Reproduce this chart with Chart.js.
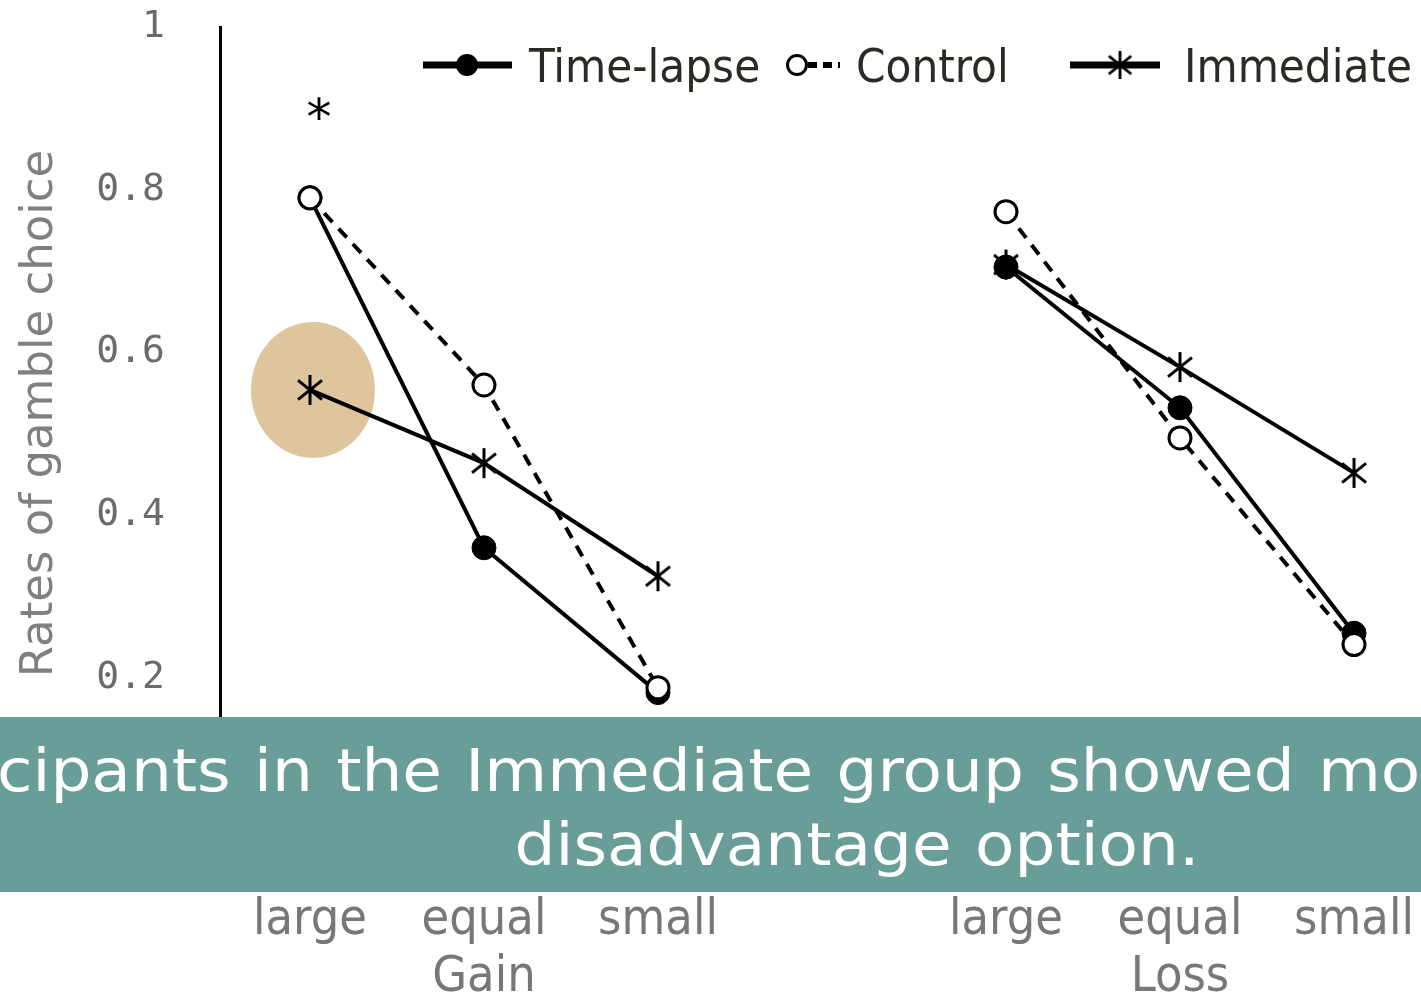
<!DOCTYPE html>
<html>
<head>
<meta charset="utf-8">
<script src="https://cdn.jsdelivr.net/npm/chart.js@4.4.1/dist/chart.umd.min.js"></script>
<style>
  html, body { margin: 0; padding: 0; background: #ffffff; }
  #wrap { width: 1421px; height: 998px; position: relative; }
</style>
</head>
<body>
<div id="wrap"><canvas id="chart" width="1421" height="998"></canvas></div>
<script>
// Condition labels and domain labels on the x axis
const conditions = ['large', 'equal', 'small'];
const domains = ['Gain', 'Loss'];
const yTicks = [0.2, 0.4, 0.6, 0.8, 1];

// Rates of gamble choice per group (Gain: large, equal, small / Loss: large, equal, small)
const timeLapseGain = [0.79, 0.36, 0.182];
const timeLapseLoss = [0.705, 0.532, 0.255];
const controlGain = [0.79, 0.56, 0.188];
const controlLoss = [0.773, 0.495, 0.241];
const immediateGain = [0.554, 0.464, 0.325];
const immediateLoss = [0.708, 0.582, 0.452];

const seriesNames = ['Time-lapse', 'Control', 'Immediate'];
const bannerLines = ['cipants in the Immediate group showed mo', 'disadvantage option.'];
const sigMark = '*';

// Gain conditions sit at x = 0..2, Loss conditions at x = 4..6; x = 3 is an empty gap
function toPoints(gain, loss) {
  const vals = [...gain, null, ...loss];
  return vals.map((v, i) => ({ x: i, y: v }));
}
const tickLabels = [...conditions, '', ...conditions].map((c, i) => {
  if (i === 1) return [c, domains[0]];
  if (i === 5) return [c, domains[1]];
  return c;
});

// Six-armed asterisk marker used for the Immediate group
function makeAsterisk(size, lw) {
  const c = document.createElement('canvas');
  c.width = size; c.height = size;
  const g = c.getContext('2d');
  g.strokeStyle = '#000';
  g.lineWidth = lw;
  const m = size / 2, r = size / 2 - 1;
  g.beginPath();
  g.moveTo(m, m - r); g.lineTo(m, m + r);
  const d = r * 0.8;
  g.moveTo(m - d, m - d * 0.8); g.lineTo(m + d, m + d * 0.8);
  g.moveTo(m + d, m - d * 0.8); g.lineTo(m - d, m + d * 0.8);
  g.stroke();
  return c;
}
const asterisk = makeAsterisk(32, 3);

const datasets = [
  {
    label: seriesNames[0],
    data: toPoints(timeLapseGain, timeLapseLoss),
    borderColor: '#000', backgroundColor: '#000',
    borderWidth: 4, pointRadius: 12, pointBorderWidth: 1,
    pointBackgroundColor: '#000', pointBorderColor: '#000', pointStyle: 'circle',
    order: 2
  },
  {
    label: seriesNames[1],
    data: toPoints(controlGain, controlLoss),
    borderColor: '#000', backgroundColor: '#fff',
    borderWidth: 4, borderDash: [12, 9], pointRadius: 11, pointBorderWidth: 3,
    pointBackgroundColor: '#fff', pointBorderColor: '#000', pointStyle: 'circle',
    order: 1
  },
  {
    label: seriesNames[2],
    data: toPoints(immediateGain, immediateLoss),
    borderColor: '#000', backgroundColor: '#000',
    borderWidth: 4, pointRadius: 16, pointStyle: asterisk,
    order: 3
  }
];

// Highlight behind the first Immediate point, significance mark, legend and caption banner
const decorations = {
  id: 'decorations',
  beforeDatasetsDraw(chart) {
    const { ctx, scales: { x, y } } = chart;
    const cx = x.getPixelForValue(0) + 3;
    const cy = y.getPixelForValue(immediateGain[0]);
    ctx.save();
    ctx.fillStyle = '#dfc59e';
    ctx.beginPath();
    ctx.ellipse(cx, cy, 62, 68, 0, 0, Math.PI * 2);
    ctx.fill();
    ctx.restore();
  },
  afterDraw(chart) {
    const { ctx, scales: { x, y } } = chart;
    ctx.save();
    // significance mark above Gain / large
    ctx.fillStyle = '#000';
    ctx.font = '50px "DejaVu Sans"';
    ctx.textAlign = 'center';
    ctx.textBaseline = 'middle';
    ctx.fillText(sigMark, x.getPixelForValue(0) + 9, y.getPixelForValue(0.885));

    // legend
    const ly = 65;
    ctx.font = '47px "DejaVu Sans Condensed"';
    ctx.textAlign = 'left';
    ctx.textBaseline = 'alphabetic';
    ctx.strokeStyle = '#000';
    // Time-lapse
    ctx.lineWidth = 7;
    ctx.beginPath(); ctx.moveTo(423, ly); ctx.lineTo(512, ly); ctx.stroke();
    ctx.fillStyle = '#000';
    ctx.beginPath(); ctx.arc(467, ly, 11, 0, Math.PI * 2); ctx.fill();
    ctx.fillStyle = '#2b2b25';
    ctx.fillText(seriesNames[0], 529, 82);
    // Control
    ctx.lineWidth = 6;
    ctx.setLineDash([9, 6]);
    ctx.beginPath(); ctx.moveTo(808, ly); ctx.lineTo(840, ly); ctx.stroke();
    ctx.setLineDash([]);
    ctx.lineWidth = 3;
    ctx.fillStyle = '#fff';
    ctx.beginPath(); ctx.arc(797, ly, 9.5, 0, Math.PI * 2); ctx.fill(); ctx.stroke();
    ctx.fillStyle = '#2b2b25';
    ctx.fillText(seriesNames[1], 856, 82);
    // Immediate
    ctx.lineWidth = 7;
    ctx.beginPath(); ctx.moveTo(1070, ly); ctx.lineTo(1160, ly); ctx.stroke();
    ctx.drawImage(asterisk, 1120 - 15, ly - 15, 30, 30);
    ctx.fillStyle = '#2b2b25';
    ctx.fillText(seriesNames[2], 1184, 82);

    // caption banner
    ctx.fillStyle = '#699d98';
    ctx.fillRect(0, 717, chart.width, 175);
    ctx.fillStyle = '#ffffff';
    ctx.font = '58px "DejaVu Sans"';
    ctx.wordSpacing = '2.5px';
    const w2 = ctx.measureText(bannerLines[1]).width;
    const sx = 685 / w2;
    ctx.save();
    ctx.translate(-3, 791);
    ctx.scale(sx, 1);
    ctx.textAlign = 'left';
    ctx.fillText(bannerLines[0], 0, 0);
    ctx.restore();
    ctx.save();
    ctx.translate(857, 865);
    ctx.scale(sx, 1);
    ctx.textAlign = 'center';
    ctx.fillText(bannerLines[1], 0, 0);
    ctx.restore();
    ctx.restore();
  }
};

new Chart(document.getElementById('chart'), {
  type: 'line',
  data: { datasets },
  options: {
    responsive: false,
    animation: false,
    spanGaps: false,
    layout: { autoPadding: false, padding: { top: 27, right: 0, bottom: 0, left: 0 } },
    plugins: { legend: { display: false }, tooltip: { enabled: false } },
    scales: {
      x: {
        type: 'linear',
        min: -0.517,
        max: 6.385,
        afterBuildTicks(scale) { scale.ticks = [0, 1, 2, 4, 5, 6].map(v => ({ value: v })); },
        afterFit(scale) {
          scale.height = 198;
          scale.paddingLeft = 0; scale.paddingRight = 0;
        },
        grid: { display: false },
        border: { display: false },
        ticks: {
          padding: 84,
          color: '#777777',
          font: { family: '"DejaVu Sans Condensed"', size: 50, lineHeight: 1.15 },
          maxRotation: 0,
          autoSkip: false,
          callback: (v) => tickLabels[v]
        }
      },
      y: {
        min: 0.05,
        max: 1,
        afterBuildTicks(scale) { scale.ticks = yTicks.map(v => ({ value: v })); },
        afterFit(scale) {
          scale.width = 220;
          scale.paddingTop = 0; scale.paddingBottom = 0;
        },
        grid: { display: true, drawOnChartArea: false, drawTicks: false, color: 'rgba(0,0,0,0)' },
        border: { display: true, color: '#000', width: 3 },
        ticks: {
          padding: 55,
          color: '#6b6b6b',
          font: { family: '"DejaVu Sans Mono"', size: 38 },
          callback: (v) => (v === 1 ? '1' : v.toFixed(1))
        },
        title: {
          display: true,
          text: 'Rates of gamble choice',
          color: '#808080',
          font: { family: '"DejaVu Sans"', size: 45, lineHeight: 1.2 },
          padding: { top: 13, bottom: 0 }
        }
      }
    }
  },
  plugins: [decorations]
});
</script>
</body>
</html>
